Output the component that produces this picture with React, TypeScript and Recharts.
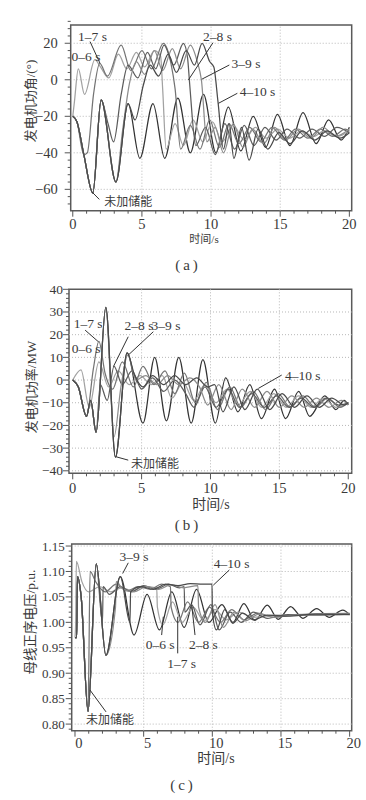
import React from 'react';
import { LineChart, Line, XAxis, YAxis, ReferenceLine, ReferenceArea, ReferenceDot } from 'recharts';

type Pt = [number, number];

// ---- (a) 发电机功角 / (°) ----
const angleNone: Pt[] = [[0,-20],[0.3,-23],[0.8,-41],[1.45,-62],[2.05,-11],[3.12,-56],[4.0,-13],[4.85,-43],[5.8,-13],[6.65,-43],[7.6,-10],[8.5,-40],[9.45,-8],[10.35,-40],[11.25,-15],[12.15,-39],[13.05,-20],[13.95,-37],[14.8,-19],[15.7,-36],[16.65,-18],[17.6,-35],[18.5,-22],[19.4,-33],[20,-26]];
const angle06: Pt[] = [[0,-20],[0.12,-12],[0.4,6],[0.85,-8],[1.6,11],[2.0,7],[2.6,1],[3.3,14],[3.9,6],[4.6,15],[5.2,7],[5.9,16],[6.35,13],[6.5,-5],[6.75,-38],[7.4,-24],[8.0,-36],[8.7,-22],[9.4,-34],[10.1,-23],[10.8,-34],[11.6,-25],[12.4,-33],[13.2,-26],[14.0,-32],[14.8,-27],[15.7,-32],[16.5,-28],[17.4,-31],[18.2,-28],[19.1,-31],[20,-28]];
const angle17: Pt[] = [[0,-20],[0.3,-23],[0.8,-41],[1.05,-40],[1.5,-8],[1.95,9],[2.5,2],[3.5,19],[4.2,5],[5.0,16],[5.7,6],[6.55,20],[7.1,9],[7.4,-5],[7.8,-38],[8.5,-25],[9.2,-38],[9.9,-22],[10.6,-37],[11.3,-24],[12.0,-35],[12.8,-26],[13.6,-34],[14.4,-26],[15.3,-33],[16.1,-27],[17.0,-32],[17.9,-27],[18.8,-31],[19.7,-27],[20,-28]];
const angle28: Pt[] = [[0,-20],[0.3,-23],[0.8,-41],[1.45,-62],[2.05,-11],[2.55,-24],[2.95,-34],[3.5,-8],[4.0,8],[4.7,1],[5.4,15],[6.0,6],[6.6,19],[7.3,8],[8.0,20],[8.3,12],[8.45,-2],[8.9,-36],[9.6,-26],[10.3,-41],[11.0,-24],[11.7,-38],[12.4,-25],[13.1,-36],[13.9,-26],[14.7,-33],[15.5,-27],[16.4,-32],[17.3,-27],[18.2,-31],[19.1,-26],[20,-29]];
const angle39: Pt[] = [[0,-20],[0.3,-23],[0.8,-41],[1.45,-62],[2.05,-11],[3.12,-56],[3.6,-28],[4.1,-2],[4.6,10],[5.2,3],[5.9,16],[6.5,5],[7.2,17],[7.8,6],[8.5,19],[9.0,10],[9.3,0],[9.7,-34],[10.3,-26],[10.9,-40],[11.6,-24],[12.3,-37],[13.0,-27],[13.8,-35],[14.6,-26],[15.4,-33],[16.3,-27],[17.2,-32],[18.1,-26],[19.0,-31],[20,-27]];
const angle410: Pt[] = [[0,-20],[0.3,-23],[0.8,-41],[1.45,-62],[2.05,-11],[3.12,-56],[4.0,-13],[4.5,-22],[5.1,-3],[5.6,8],[6.2,2],[6.9,14],[7.5,4],[8.2,16],[8.8,8],[9.35,20],[9.9,10],[10.2,7],[10.5,-12],[10.9,-38],[11.3,-24],[11.65,-43],[12.2,-26],[12.75,-44],[13.4,-27],[14.1,-38],[14.9,-29],[15.7,-35],[16.6,-28],[17.5,-33],[18.4,-28],[19.3,-32],[20,-29]];

// ---- (b) 发电机功率 / MW ----
const powerNone: Pt[] = [[0,0],[0.4,-3],[1.0,-16],[1.3,-9],[1.7,-23],[2.4,32],[3.1,-34],[3.95,12],[5.1,-19],[5.95,10],[6.8,-18],[7.7,10],[8.6,-19],[9.45,9],[10.35,-19],[11.1,1],[12.0,-14],[12.85,-2],[13.7,-17],[14.65,-4],[15.45,-17],[16.4,-5],[17.2,-16],[18.3,-7],[19.1,-13],[19.7,-9],[20,-11]];
const power06: Pt[] = [[0,0],[0.6,4.5],[1.2,-12],[1.9,8],[2.6,-3],[3.3,4],[4.1,-2],[4.9,2],[5.7,-2],[6.5,2],[7.2,-8],[8.0,-1],[8.8,-9],[9.6,-2],[10.4,-10],[11.2,-4],[12.0,-11],[12.9,-5],[13.7,-12],[14.6,-6],[15.5,-12],[16.4,-7],[17.3,-12],[18.2,-8],[19.1,-12],[20,-10]];
const power17: Pt[] = [[0,0],[0.4,-3],[1.0,-16],[1.5,5],[1.9,17],[2.35,3],[2.9,-4],[3.6,8],[4.4,-3],[5.1,6],[5.9,-2],[6.7,4],[7.4,-6],[8.1,3],[8.9,-10],[9.7,-1],[10.5,-13],[11.4,-3],[12.2,-12],[13.1,-5],[14.0,-13],[14.9,-6],[15.8,-12],[16.7,-7],[17.6,-12],[18.5,-8],[19.4,-12],[20,-10]];
const power28: Pt[] = [[0,0],[0.4,-3],[1.0,-16],[1.3,-9],[1.7,-23],[2.0,-2],[2.5,-9],[3.0,6],[3.6,-2],[4.3,4],[5.0,-4],[5.8,1],[6.6,-5],[7.4,0],[8.2,-6],[8.8,-12],[9.6,-3],[10.4,-12],[11.3,-4],[12.1,-12],[13.0,-6],[13.9,-12],[14.8,-7],[15.7,-12],[16.6,-8],[17.5,-12],[18.4,-8],[19.3,-11],[20,-10]];
const power39: Pt[] = [[0,0],[0.4,-3],[1.0,-16],[1.3,-9],[1.7,-23],[2.4,32],[3.0,-25],[3.5,-3],[4.0,11],[4.6,0],[5.3,2],[6.1,-2],[6.9,2],[7.7,-2],[8.5,1],[9.2,-3],[9.8,-11],[10.6,-2],[11.5,-13],[12.3,-4],[13.2,-12],[14.1,-5],[15.0,-12],[15.9,-7],[16.8,-12],[17.7,-8],[18.6,-12],[19.5,-9],[20,-11]];
const power410: Pt[] = [[0,0],[0.4,-3],[1.0,-16],[1.3,-9],[1.7,-23],[2.4,32],[3.1,-34],[3.95,12],[4.5,2],[5.1,-3],[5.8,2],[6.6,-2],[7.4,2],[8.2,-2],[9.0,1],[9.8,-3],[10.3,-2],[10.9,-14],[11.7,-3],[12.5,-13],[13.4,-4],[14.3,-13],[15.2,-6],[16.1,-12],[17.0,-7],[17.9,-12],[18.8,-8],[19.7,-11],[20,-10]];

// ---- (c) 母线正序电压 / p.u. ----
const voltNone: Pt[] = [[0,0.97],[0.12,0.97],[0.18,1.09],[0.45,1.05],[0.95,0.825],[1.55,1.115],[2.25,0.935],[3.3,1.09],[4.3,0.975],[5.25,1.055],[6.15,0.985],[7.05,1.06],[7.95,0.99],[8.85,1.065],[9.75,1.0],[10.7,1.035],[11.5,1.0],[12.3,1.037],[13.1,1.004],[14.0,1.034],[14.8,1.006],[15.7,1.031],[16.6,1.008],[17.6,1.027],[18.5,1.01],[19.5,1.024],[20,1.015]];
const volt06: Pt[] = [[0,0.97],[0.05,1.0],[0.1,1.12],[0.5,1.08],[1.0,1.06],[1.8,1.07],[2.6,1.06],[3.4,1.068],[4.2,1.062],[5.0,1.07],[5.95,1.068],[6.0,1.03],[6.4,0.995],[7.1,1.04],[7.8,1.0],[8.6,1.03],[9.4,1.003],[10.2,1.025],[11.0,1.005],[11.9,1.02],[13,1.01],[14.5,1.014],[16,1.015],[18,1.017],[20,1.018]];
const volt17: Pt[] = [[0,0.97],[0.12,0.97],[0.18,1.09],[0.45,1.05],[0.95,0.825],[1.0,0.9],[1.1,1.1],[1.5,1.08],[2.2,1.06],[3.0,1.075],[3.8,1.062],[4.6,1.07],[5.5,1.065],[6.3,1.075],[6.95,1.07],[7.0,1.03],[7.5,1.0],[8.2,1.04],[9.0,1.0],[9.8,1.03],[10.6,1.0],[11.4,1.025],[12.3,1.005],[13.3,1.018],[14.5,1.01],[16,1.015],[18,1.016],[20,1.017]];
const volt28: Pt[] = [[0,0.97],[0.12,0.97],[0.18,1.09],[0.45,1.05],[0.95,0.825],[1.55,1.115],[2.0,1.0],[2.05,1.07],[2.5,1.055],[3.3,1.07],[4.1,1.06],[5.0,1.072],[5.9,1.065],[6.8,1.075],[7.6,1.068],[7.95,1.07],[8.0,1.02],[8.5,1.035],[9.1,0.995],[9.9,1.035],[10.5,0.985],[11.3,1.02],[12.1,1.0],[13.0,1.02],[14,1.008],[15.5,1.015],[17.5,1.014],[20,1.016]];
const volt39: Pt[] = [[0,0.97],[0.12,0.97],[0.18,1.09],[0.45,1.05],[0.95,0.825],[1.55,1.115],[2.25,0.935],[2.95,1.03],[3.0,1.08],[3.5,1.065],[4.3,1.06],[5.2,1.07],[6.1,1.065],[7.0,1.074],[7.9,1.068],[8.95,1.072],[9.0,1.03],[9.5,1.0],[10.2,1.035],[10.8,0.99],[11.6,1.02],[12.4,1.003],[13.4,1.016],[14.5,1.01],[16,1.014],[18,1.015],[20,1.016]];
const volt410: Pt[] = [[0,0.97],[0.12,0.97],[0.18,1.09],[0.45,1.05],[0.95,0.825],[1.55,1.115],[2.25,0.935],[3.3,1.09],[4.0,1.0],[4.05,1.06],[4.8,1.07],[5.7,1.065],[6.6,1.075],[7.5,1.072],[8.4,1.076],[9.3,1.075],[9.98,1.075],[10.0,1.02],[10.3,0.985],[10.9,1.025],[11.5,0.998],[12.2,1.018],[13.0,1.005],[14,1.014],[15.5,1.012],[17.5,1.016],[20,1.015]];

// ticks
const timeTicks = [0, 5, 10, 15, 20];
const angleTicks = [-60, -40, -20, 0, 20];
const powerTicks = [-40, -30, -20, -10, 0, 10, 20, 30, 40];
const voltTicks = [0.8, 0.85, 0.9, 0.95, 1.0, 1.05, 1.1, 1.15];

const steps = (from: number, to: number, step: number) => {
  const out: number[] = [];
  for (let v = from; v <= to + step / 2; v += step) out.push(Math.round(v * 1000) / 1000);
  return out;
};

const SERIF = "'Liberation Serif', 'Times New Roman', 'DejaVu Serif', 'Noto Sans CJK SC', serif";
const INK = '#3a3a3a';
const greys = ['#333333', '#a2a2a2', '#747474', '#5c5c5c', '#8c8c8c', '#4a4a4a'];

type Note = { text: string; at: Pt; from?: Pt; to?: Pt; size?: number };

type PanelProps = {
  top: number;
  height: number;
  left: number;
  mTop: number;
  mBottom: number;
  xDomain: [number, number];
  yDomain: [number, number];
  yMajor: number[];
  yMinorStep: number;
  yFmt: (v: number) => string;
  yFont: number;
  yGap: number;
  xFont: number;
  xDy: number;
  xDx: number;
  series: Pt[][];
  notes: Note[];
};

const near = (list: number[], v: number) => list.some((m) => Math.abs(m - v) < 1e-6);

function Panel(p: PanelProps) {
  const W = 366;
  const xMinor = steps(0, 20, 1);
  const yMinor = steps(Math.ceil(p.yDomain[0] / p.yMinorStep) * p.yMinorStep, p.yDomain[1], p.yMinorStep);

  const XTick = (props: any) => {
    const { x, y, payload } = props;
    const major = near(timeTicks, payload.value);
    return (
      <g>
        <line x1={x} x2={x} y1={y} y2={y + (major ? 6 : 3)} stroke="#555" strokeWidth={1} />
        {major && (
          <text x={x + p.xDx} y={y + p.xDy} textAnchor="middle" dominantBaseline="central"
            fontFamily={SERIF} fontSize={p.xFont} fill={INK}>{payload.value}</text>
        )}
      </g>
    );
  };

  const YTick = (props: any) => {
    const { x, y, payload } = props;
    const major = near(p.yMajor, payload.value);
    return (
      <g>
        <line x1={x - (major ? 6 : 3)} x2={x} y1={y} y2={y} stroke="#555" strokeWidth={1} />
        {major && (
          <text x={x - p.yGap} y={y} textAnchor="end" dominantBaseline="central"
            fontFamily={SERIF} fontSize={p.yFont} fill={INK}>{p.yFmt(payload.value)}</text>
        )}
      </g>
    );
  };

  return (
    <div style={{ position: 'absolute', left: 0, top: p.top }}>
      <LineChart width={W} height={p.height}
        margin={{ top: p.mTop, right: 14.3, bottom: p.mBottom, left: p.left - 40 }}>
        <XAxis dataKey="t" type="number" domain={p.xDomain} ticks={xMinor} interval={0}
          allowDataOverflow tick={<XTick />} tickLine={false} axisLine={false} tickSize={0} tickMargin={0} height={30} />
        <YAxis dataKey="v" type="number" domain={p.yDomain} ticks={yMinor} interval={0}
          allowDataOverflow tick={<YTick />} tickLine={false} axisLine={false} tickSize={0} tickMargin={0} width={40} />
        {timeTicks.filter((t) => t > 0 && t < 20).map((t) => (
          <ReferenceLine key={'gx' + t} x={t} stroke="#b8b8b8" strokeDasharray="1 2" />
        ))}
        {p.yMajor.filter((v) => v > p.yDomain[0] + 1e-6 && v < p.yDomain[1] - 1e-6).map((v) => (
          <ReferenceLine key={'gy' + v} y={v} stroke="#b8b8b8" strokeDasharray="1 2" />
        ))}
        {p.series.map((pts, i) => (
          <Line key={i} data={pts.map(([t, v]) => ({ t, v }))} dataKey="v" type="monotone"
            stroke={greys[i]} strokeWidth={1.25} dot={false} isAnimationActive={false} />
        ))}
        <ReferenceArea x1={p.xDomain[0]} x2={p.xDomain[1]} y1={p.yDomain[0]} y2={p.yDomain[1]}
          fill="none" stroke="#5a5a5a" strokeWidth={1.5} ifOverflow="visible" />
        {p.notes.map((n, i) =>
          n.from && n.to ? (
            <ReferenceLine key={'nl' + i} segment={[{ x: n.from[0], y: n.from[1] }, { x: n.to[0], y: n.to[1] }]}
              stroke="#333" strokeWidth={1} ifOverflow="visible" />
          ) : null
        )}
        {p.notes.map((n, i) => (
          <ReferenceDot key={'nt' + i} x={n.at[0]} y={n.at[1]} r={0} fill="none" stroke="none" ifOverflow="visible"
            label={{ value: n.text, position: 'center', fontSize: n.size ?? 13.5, fontFamily: SERIF, fill: INK }} />
        ))}
      </LineChart>
    </div>
  );
}

const VLabel = ({ x, y, text, size }: { x: number; y: number; text: string; size: number }) => (
  <div style={{ position: 'absolute', left: x, top: y, transform: 'translate(-50%, -50%) rotate(-90deg)',
    whiteSpace: 'nowrap', fontFamily: SERIF, fontSize: size, color: INK, lineHeight: 1 }}>{text}</div>
);

const HLabel = ({ x, y, text, size, spacing }: { x: number; y: number; text: string; size: number; spacing?: number }) => (
  <div style={{ position: 'absolute', left: x, top: y, transform: 'translate(-50%, -50%)', whiteSpace: 'nowrap',
    fontFamily: SERIF, fontSize: size, color: INK, lineHeight: 1, letterSpacing: spacing ?? 0 }}>{text}</div>
);

export default function App() {
  const fmtInt = (v: number) => (v < 0 ? '\u2212' + Math.abs(v) : String(v));
  return (
    <div style={{ position: 'absolute', left: 0, top: 0, width: 366, height: 800, background: '#fff', overflow: 'hidden' }}>
      <Panel top={0} height={250} left={70.7} mTop={25} mBottom={9.3}
        xDomain={[-0.15, 20.17]} yDomain={[-71.7, 30]} yMajor={angleTicks} yMinorStep={4}
        yFmt={fmtInt} yFont={14.5} yGap={13} xFont={14.5} xDy={13.5} xDx={0}
        series={[angleNone, angle06, angle17, angle28, angle39, angle410]}
        notes={[
          { text: '1–7 s', at: [1.43, 24], from: [1.25, 20.9], to: [1.97, 9] },
          { text: '0–6 s', at: [0.96, 12.7] },
          { text: '2–8 s', at: [10.47, 24], from: [10.14, 20.3], to: [8.36, -0.1] },
          { text: '3–9 s', at: [12.53, 9.2], from: [11.32, 8.1], to: [9.33, 0.3] },
          { text: '4–10 s', at: [13.36, -6], from: [11.9, -7.4], to: [10.53, -12.9] },
          { text: '未加储能', at: [4.02, -66.8], from: [1.92, -65.5], to: [1.37, -61.3], size: 12 },
        ]} />
      <VLabel x={30} y={101} text="发电机功角/(°)" size={13} />
      <HLabel x={204} y={239} text="时间/s" size={11} />
      <HLabel x={188} y={265} text="(a)" size={15} spacing={3} />

      <Panel top={270} height={250} left={69} mTop={19.3} mBottom={16.7}
        xDomain={[-0.27, 20.25]} yDomain={[-41.1, 40]} yMajor={powerTicks} yMinorStep={2}
        yFmt={fmtInt} yFont={13.5} yGap={6} xFont={14.5} xDy={15} xDx={0}
        series={[powerNone, power06, power17, power28, power39, power410]}
        notes={[
          { text: '1–7 s', at: [1.12, 25.2], from: [0.9, 22], to: [1.86, 16.9] },
          { text: '0–6 s', at: [0.97, 14] },
          { text: '2–8 s', at: [4.81, 24.3], from: [4.03, 19.1], to: [2.95, 5.9] },
          { text: '3–9 s', at: [6.77, 24.3], from: [5.85, 21.3], to: [4.03, 11] },
          { text: '4–10 s', at: [16.7, 2.2], from: [15.17, 2.2], to: [13.47, -3.7] },
          { text: '未加储能', at: [5.97, -37], from: [4.03, -35.3], to: [3.14, -33.8], size: 12 },
        ]} />
      <VLabel x={31} y={387} text="发电机功率/MW" size={13} />
      <HLabel x={211} y={505} text="时间/s" size={14} />
      <HLabel x={188} y={525} text="(b)" size={15} spacing={3} />

      <Panel top={530} height={250} left={71.7} mTop={14} mBottom={19.3}
        xDomain={[-0.24, 20.15]} yDomain={[0.787, 1.154]} yMajor={voltTicks} yMinorStep={0.01}
        yFmt={(v) => v.toFixed(2)} yFont={13} yGap={7} xFont={14.5} xDy={12} xDx={4}
        series={[voltNone, volt06, volt17, volt28, volt39, volt410]}
        notes={[
          { text: '3–9 s', at: [4.3, 1.13], from: [3.88, 1.117], to: [3.47, 1.096] },
          { text: '4–10 s', at: [11.41, 1.117], from: [11.24, 1.103], to: [10.07, 1.073] },
          { text: '0–6 s', at: [6.2, 0.957], from: [6.31, 0.975], to: [6.43, 1.011] },
          { text: '2–8 s', at: [9.35, 0.957], from: [8.74, 0.975], to: [8.5, 1.034] },
          { text: '1–7 s', at: [7.77, 0.919], from: [7.48, 0.939], to: [7.48, 1.011] },
          { text: '未加储能', at: [2.55, 0.808], from: [2.26, 0.824], to: [1.09, 0.867], size: 12 },
        ]} />
      <VLabel x={31} y={622} text="母线正序电压/p.u." size={13.5} />
      <HLabel x={216} y={759} text="时间/s" size={14} />
      <HLabel x={183} y={785} text="(c)" size={15} spacing={3} />
    </div>
  );
}
